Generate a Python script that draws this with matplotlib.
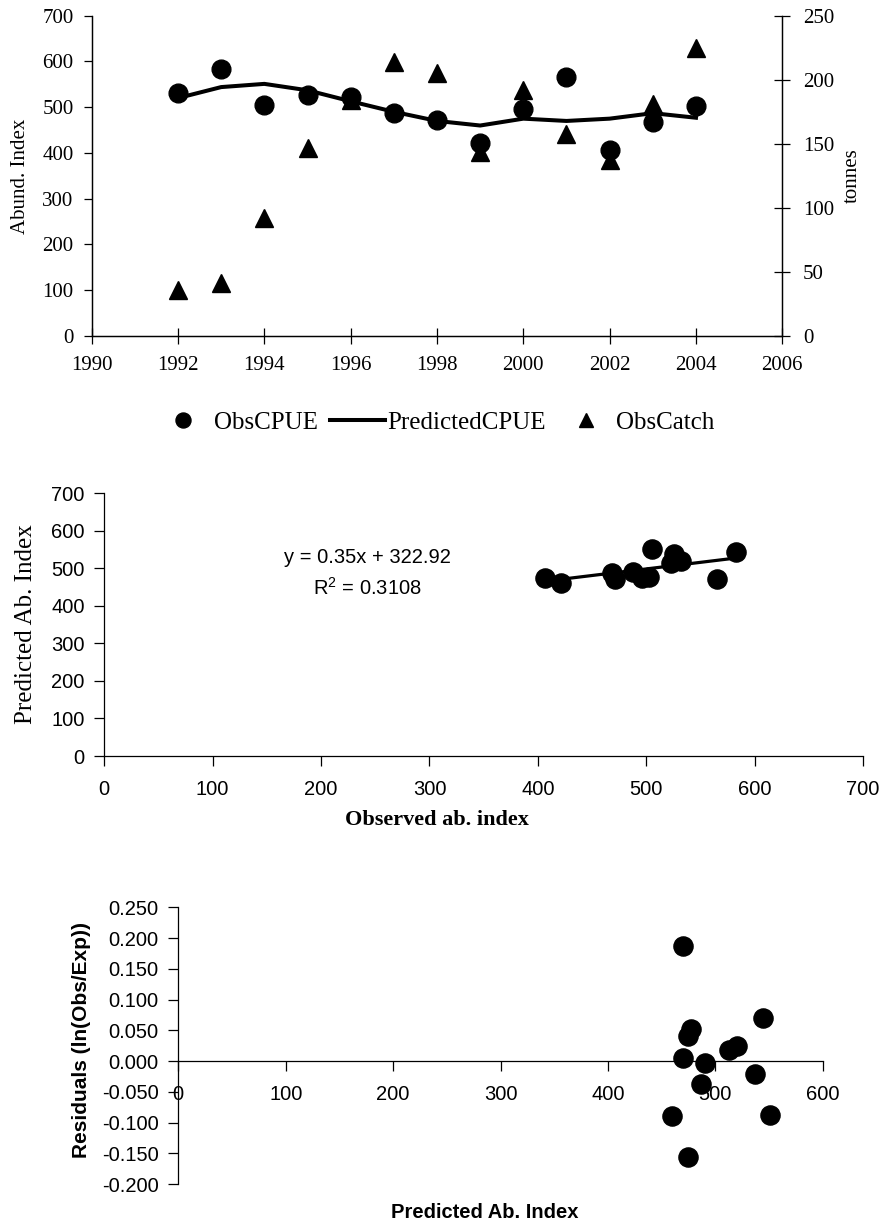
import matplotlib
matplotlib.use("Agg")
import matplotlib.pyplot as plt
import numpy as np

# ---------------- data ----------------
years = [1992, 1993, 1994, 1995, 1996, 1997, 1998, 1999, 2000, 2001, 2002, 2003, 2004]
obs_cpue = [532, 583, 505, 526, 523, 488, 471, 421, 496, 565, 407, 468, 503]
pred_cpue = [520, 544, 551, 537, 513, 490, 470, 460, 475, 470, 475, 487, 477]
obs_catch = [35.6, 41.6, 92, 147, 184, 213.6, 205, 143.6, 191.7, 158, 137, 181, 224.8]
residuals = [0.024, 0.0705, -0.087, -0.021, 0.018, -0.0038, 0.0054, -0.089,
             0.0407, 0.1876, -0.156, -0.038, 0.052]
resid_ticks = [-0.2, -0.15, -0.1, -0.05, 0.0, 0.05, 0.1, 0.15, 0.2, 0.25]
trend_slope = 0.35
trend_intercept = 322.92
trend_label = "y = 0.35x + 322.92"
r2_label = "R$^2$ = 0.3108"

SERIF = "Liberation Serif"
SANS = "Liberation Sans"
plt.rcParams["mathtext.fontset"] = "custom"
plt.rcParams["mathtext.rm"] = SANS
plt.rcParams["mathtext.it"] = SANS
plt.rcParams["axes.linewidth"] = 0.9

W, H = 885, 1228
fig = plt.figure(figsize=(W / 100, H / 100), dpi=100)


def rect(x0, x1, ytop, ybot):
    return [x0 / W, 1 - ybot / H, (x1 - x0) / W, (ybot - ytop) / H]


# ---------------- top chart ----------------
ax1 = fig.add_axes(rect(91.7, 782.3, 15.7, 336))
ax2 = ax1.twinx()
ax1.plot(years, pred_cpue, color="black", lw=2.9, zorder=2, label="PredictedCPUE")
ax1.plot(years, obs_cpue, ls="none", marker="o", ms=13.5, color="black", zorder=3,
         label="ObsCPUE")
ax2.plot(years, obs_catch, ls="none", marker="^", ms=13, color="black", label="ObsCatch")

ax1.set_xlim(1990, 2006)
ax1.set_ylim(0, 700)
ax2.set_ylim(0, 250)
ax1.set_xticks(range(1990, 2007, 2))
ax1.set_yticks(range(0, 701, 100))
ax2.set_yticks(range(0, 251, 50))
ax1.spines["top"].set_visible(False)
ax2.spines["top"].set_visible(False)
for a in (ax1, ax2):
    for lab in a.get_xticklabels() + a.get_yticklabels():
        lab.set_fontfamily(SERIF)
        lab.set_fontsize(15)
ax1.tick_params(axis="x", direction="inout", length=11, pad=9, width=0.9)
ax1.tick_params(axis="y", direction="out", length=6, pad=7, width=0.9)
ax2.tick_params(axis="y", direction="inout", length=12, pad=9, width=0.9)
fig.text(21 / W, 1 - 176 / H, "Abund. Index", rotation=90, ha="center", va="center",
         family=SERIF, fontsize=15)
fig.text(852 / W, 1 - 176 / H, "tonnes", rotation=90, ha="center", va="center",
         family=SERIF, fontsize=15)

h1, l1 = ax1.get_legend_handles_labels()
h2, l2 = ax2.get_legend_handles_labels()
handles = [h1[1], h1[0], h2[0]]
labels = [l1[1], l1[0], l2[0]]
leg = ax2.legend(handles, labels, loc="center", bbox_to_anchor=(435 / W, 1 - 422.7 / H),
                 bbox_transform=fig.transFigure, ncol=3, frameon=False,
                 prop={"family": SERIF, "size": 18}, markerscale=0.8,
                 handlelength=2.2, handletextpad=0.12, columnspacing=0.48,
                 borderpad=0.2)

# ---------------- middle chart ----------------
bx = fig.add_axes(rect(104.3, 863, 493, 756))
bx.plot(obs_cpue, pred_cpue, ls="none", marker="o", ms=13.8, color="black", zorder=3)
tx = np.array([min(obs_cpue), max(obs_cpue)])
bx.plot(tx, trend_slope * tx + trend_intercept, color="black", lw=2.3, zorder=2)
bx.set_xlim(0, 700)
bx.set_ylim(0, 700)
bx.set_xticks(range(0, 701, 100))
bx.set_yticks(range(0, 701, 100))
bx.spines["top"].set_visible(False)
bx.spines["right"].set_visible(False)
for lab in bx.get_xticklabels() + bx.get_yticklabels():
    lab.set_fontfamily(SANS)
    lab.set_fontsize(14.5)
bx.tick_params(axis="x", direction="out", length=7, pad=10, width=0.9)
bx.tick_params(axis="y", direction="out", length=7, pad=7, width=0.9)
bx.text(243, 527, trend_label, ha="center", va="center", family=SANS, fontsize=14.5)
bx.text(243, 447, r2_label, ha="center", va="center", family=SANS, fontsize=14.5)
fig.text(26 / W, 1 - 624.5 / H, "Predicted Ab. Index", rotation=90, ha="center",
         va="center", family=SERIF, fontsize=18)
fig.text(437 / W, 1 - 820 / H, "Observed ab. index", ha="center", va="center",
         family=SERIF, fontsize=16, fontweight="bold")

# ---------------- bottom chart ----------------
cx = fig.add_axes(rect(178.3, 822.7, 907.3, 1184))
cx.plot(pred_cpue, residuals, ls="none", marker="o", ms=13.8, color="black", zorder=3)
cx.set_xlim(0, 600)
cx.set_ylim(-0.2, 0.25)
cx.set_xticks(range(0, 601, 100))
cx.set_yticks(resid_ticks)
cx.set_yticklabels([f"{v:.3f}" for v in resid_ticks])
cx.spines["top"].set_visible(False)
cx.spines["right"].set_visible(False)
cx.spines["bottom"].set_position(("data", 0))
for lab in cx.get_xticklabels() + cx.get_yticklabels():
    lab.set_fontfamily(SANS)
    lab.set_fontsize(14.5)
cx.tick_params(axis="x", direction="out", length=7, pad=10, width=0.9)
cx.tick_params(axis="y", direction="out", length=7, pad=7, width=0.9)
fig.text(81.7 / W, 1 - 1040 / H, "Residuals (ln(Obs/Exp))", rotation=90, ha="center",
         va="center", family=SANS, fontsize=15, fontweight="bold")
fig.text(485 / W, 1 - 1213 / H, "Predicted Ab. Index", ha="center", va="center",
         family=SANS, fontsize=14.5, fontweight="bold")

fig.savefig("out.png", dpi=100)
